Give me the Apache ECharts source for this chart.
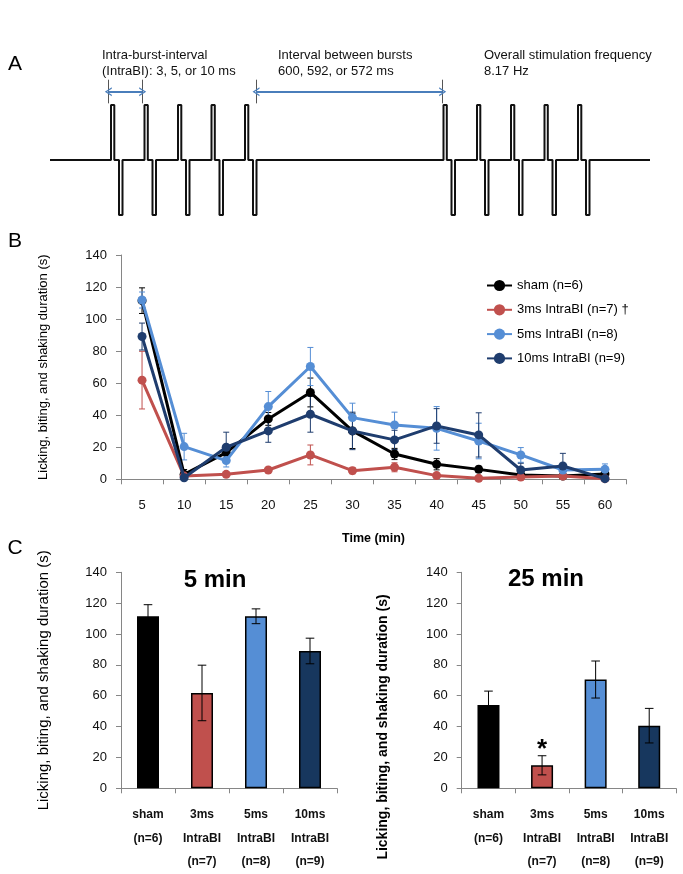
<!DOCTYPE html>
<html><head><meta charset="utf-8">
<script src="https://cdn.jsdelivr.net/npm/echarts@6/dist/echarts.min.js"></script>
<style>html,body{margin:0;padding:0;background:#fff}#c{width:683px;height:874px}</style>
</head><body><div id="c"></div>
<script>
// ---------- Panel A: stimulation schematic (units: schematic time, arbitrary) ----------
const burstPulseStarts = [61, 94.5, 128, 161.5, 195, 393.5, 427, 461, 494.5, 528];
const waveLength = 600;
const pulseUpWidth = 3.3;
const pulseDownStart = 8;
const pulseDownEnd = 11.5;
const markerLinesX = [58.3, 92.7, 206, 392.7];
const arrowSpans = [[58.3, 92.7], [206, 392.7]];

// ---------- Panel B: time course ----------
const timeLabels = ['5','10','15','20','25','30','35','40','45','50','55','60'];
const groupNames = ['sham (n=6)', '3ms IntraBI (n=7)', '5ms IntraBI (n=8)', '10ms IntraBI (n=9)'];
const shamMean = [111.5, 3.1, 16.6, 37.7, 54.2, 30.2, 15.8, 9.4, 6.2, 2.7, 2.0, 3.3];
const shamSem  = [8, 3, 4, 4, 9, 11, 3.5, 3.5, 2, 1, 1, 1];
const ms3Mean  = [61.9, 2.0, 3.1, 5.8, 15.2, 5.4, 7.5, 2.3, 0.6, 1.4, 2.0, 0.4];
const ms3Sem   = [18, 1, 1, 1.5, 6.2, 2, 2.8, 1.5, 0.5, 1, 1, 0.3];
const ms5Mean  = [111.9, 20.4, 11.7, 45.4, 70.4, 38.5, 33.9, 31.8, 23.9, 15.2, 5.8, 6.2];
const ms5Sem   = [5, 8.3, 4, 9.4, 11.9, 9, 8, 13.6, 11.1, 4.6, 3, 3.4];
const ms10Mean = [89.1, 1.0, 20.0, 30.2, 40.6, 30.2, 24.6, 33.3, 27.7, 5.8, 8.3, 0.4];
const ms10Sem  = [8.4, 1, 9.4, 7.1, 11.2, 11.7, 6, 10.8, 13.8, 4.2, 7.9, 0.5];
const yTicksMax = 140;

// ---------- Panel C: bars ----------
const barCategories = ['sham\n(n=6)', '3ms\nIntraBI\n(n=7)', '5ms\nIntraBI\n(n=8)', '10ms\nIntraBI\n(n=9)'];
const bar5Mean  = [111.5, 61.8, 111.5, 89.0];
const bar5Sem   = [7.5, 18, 4.8, 8.3];
const bar25Mean = [54.0, 14.9, 70.5, 40.6];
const bar25Sem  = [9, 6.2, 12, 11.2];
const bar25Sig  = ['', '*', '', ''];

// ---------- styles ----------
const FONT = '"Liberation Sans", Arial, sans-serif';
const lineColors = ['#000000', '#c0504d', '#558ed5', '#1f3d6e'];
const barColors  = ['#000000', '#c0504d', '#558ed5', '#17375e'];
const axisGray = '#868686';

// build waveform vertices from pulse start times
const wave = [[0, 0]];
burstPulseStarts.forEach(t => {
  wave.push([t, 0], [t, 1], [t + pulseUpWidth, 1], [t + pulseUpWidth, 0],
            [t + pulseDownStart, 0], [t + pulseDownStart, -1], [t + pulseDownEnd, -1], [t + pulseDownEnd, 0]);
});
wave.push([waveLength, 0]);

const chev = 'path://M0,10 L5,0 L10,10 L8.4,10 L5,3.2 L1.6,10 Z';
const markData = [];
markerLinesX.forEach(x => markData.push([
  {coord: [x, 1.46], symbol: 'none', lineStyle: {color: '#555', width: 1, type: 'solid'}},
  {coord: [x, 1.03], symbol: 'none'}
]));
arrowSpans.forEach(s => markData.push([
  {coord: [s[0], 1.242], symbol: chev, symbolSize: [9, 7], lineStyle: {color: '#4a7ebb', width: 2, type: 'solid'}},
  {coord: [s[1], 1.242], symbol: chev, symbolSize: [9, 7]}
]));

function errRender(capHalf, color, lw) {
  return function (params, api) {
    const x = api.value(0), lo = api.value(1), hi = api.value(2);
    const a = api.coord([x, hi]), b = api.coord([x, lo]);
    const st = {stroke: color, lineWidth: lw};
    return {type: 'group', children: [
      {type: 'line', shape: {x1: a[0], y1: a[1], x2: b[0], y2: b[1]}, style: st},
      {type: 'line', shape: {x1: a[0] - capHalf, y1: a[1], x2: a[0] + capHalf, y2: a[1]}, style: st},
      {type: 'line', shape: {x1: b[0] - capHalf, y1: b[1], x2: b[0] + capHalf, y2: b[1]}, style: st}
    ]};
  };
}
function errData(mean, sem) {
  return mean.map((m, i) => [i, Math.max(0, m - sem[i]), m + sem[i]]);
}

const means = [shamMean, ms3Mean, ms5Mean, ms10Mean];
const sems = [shamSem, ms3Sem, ms5Sem, ms10Sem];

const series = [
  {type: 'line', xAxisIndex: 0, yAxisIndex: 0, data: wave, symbol: 'none', silent: true,
   lineStyle: {color: '#111', width: 2}, z: 2,
   markLine: {silent: true, animation: false, label: {show: false}, data: markData}}
];
// error bars for B (beneath lines)
means.forEach((m, k) => series.push({
  type: 'custom', xAxisIndex: 1, yAxisIndex: 1, silent: true, z: 1,
  renderItem: errRender(3, lineColors[k], 1), data: errData(m, sems[k]),
  encode: {x: 0, y: [1, 2]}
}));
// lines for B
means.forEach((m, k) => series.push({
  type: 'line', name: groupNames[k], xAxisIndex: 1, yAxisIndex: 1, data: m,
  symbol: 'circle', symbolSize: 9, color: lineColors[k],
  lineStyle: {width: 3, color: lineColors[k]}, itemStyle: {color: lineColors[k]}, z: 3 + k
}));
// bars C left
series.push({
  type: 'bar', name: '5 min', xAxisIndex: 2, yAxisIndex: 2, barWidth: 22,
  data: bar5Mean.map((v, i) => ({value: v, itemStyle: {color: barColors[i]}})),
  itemStyle: {borderColor: '#000', borderWidth: 1.5}, z: 2
});
series.push({
  type: 'custom', xAxisIndex: 2, yAxisIndex: 2, silent: true, z: 5,
  renderItem: errRender(4.3, '#000', 1), data: errData(bar5Mean, bar5Sem), encode: {x: 0, y: [1, 2]}
});
// bars C right
series.push({
  type: 'bar', name: '25 min', xAxisIndex: 3, yAxisIndex: 3, barWidth: 22,
  data: bar25Mean.map((v, i) => ({
    value: v, itemStyle: {color: barColors[i]},
    label: {show: bar25Sig[i] !== '', position: 'top', distance: 2, formatter: bar25Sig[i],
            fontSize: 26, fontWeight: 'bold', color: '#000', fontFamily: FONT}
  })),
  itemStyle: {borderColor: '#000', borderWidth: 1.5}, z: 2
});
series.push({
  type: 'custom', xAxisIndex: 3, yAxisIndex: 3, silent: true, z: 5,
  renderItem: errRender(4.3, '#000', 1), data: errData(bar25Mean, bar25Sem), encode: {x: 0, y: [1, 2]}
});

const valAxis = (gi, name, gap, nameSize, nameWeight) => ({
  type: 'value', gridIndex: gi, min: 0, max: yTicksMax, interval: 20,
  name: name, nameLocation: 'middle', nameGap: gap,
  nameTextStyle: {fontSize: nameSize, color: '#000', fontFamily: FONT, fontWeight: nameWeight},
  axisLine: {show: true, lineStyle: {color: axisGray, width: 1}},
  axisTick: {show: true, length: 5, lineStyle: {color: axisGray}},
  axisLabel: {fontSize: 13, color: '#111', margin: 14, fontFamily: FONT},
  splitLine: {show: false}
});
const catAxis = (gi, data, labelOpt, name) => ({
  type: 'category', gridIndex: gi, data: data, boundaryGap: true,
  name: name || '', nameLocation: 'middle', nameGap: 53,
  nameTextStyle: {fontSize: 12.5, fontWeight: 'bold', color: '#000', fontFamily: FONT},
  axisLine: {show: true, lineStyle: {color: axisGray, width: 1}},
  axisTick: {show: true, length: 5, alignWithLabel: false, lineStyle: {color: axisGray}},
  axisLabel: Object.assign({interval: 0, color: '#111', fontFamily: FONT}, labelOpt),
  splitLine: {show: false}
});

const option = {
  animation: false,
  backgroundColor: '#fff',
  textStyle: {fontFamily: FONT},
  grid: [
    {left: 50, top: 72, width: 600, height: 143},
    {left: 121, top: 255, width: 505, height: 224.3},
    {left: 121, top: 572.3, width: 216, height: 216},
    {left: 461.7, top: 572.3, width: 214.3, height: 216}
  ],
  xAxis: [
    {type: 'value', gridIndex: 0, min: 0, max: waveLength, show: false},
    catAxis(1, timeLabels, {fontSize: 13, margin: 20}, 'Time (min)'),
    catAxis(2, barCategories, {fontSize: 12, fontWeight: 'bold', lineHeight: 23.5, margin: 15}),
    catAxis(3, barCategories, {fontSize: 12, fontWeight: 'bold', lineHeight: 23.5, margin: 15})
  ],
  yAxis: [
    {type: 'value', gridIndex: 0, min: -1, max: 1.6, show: false},
    valAxis(1, 'Licking, biting, and shaking duration (s)', 71, 13, 'normal'),
    valAxis(2, 'Licking, biting, and shaking duration (s)', 70, 15, 'normal'),
    valAxis(3, '', 0, 14, 'bold')
  ],
  legend: {
    data: groupNames, orient: 'vertical', left: 481, top: 274,
    itemWidth: 25, itemHeight: 14, itemGap: 11.3, selectedMode: false,
    textStyle: {fontSize: 13, color: '#000', fontFamily: FONT},
    formatter: n => (n === groupNames[1] ? n + ' \u2020' : n)
  },
  graphic: {elements: [
    {type: 'text', x: 15, y: 64, style: {text: 'A', fontSize: 21, fill: '#000', fontFamily: FONT, align: 'center', verticalAlign: 'middle'}},
    {type: 'text', x: 15, y: 241, style: {text: 'B', fontSize: 21, fill: '#000', fontFamily: FONT, align: 'center', verticalAlign: 'middle'}},
    {type: 'text', x: 15, y: 548, style: {text: 'C', fontSize: 21, fill: '#000', fontFamily: FONT, align: 'center', verticalAlign: 'middle'}},
    {type: 'text', x: 102, y: 47, style: {text: 'Intra-burst-interval\n(IntraBI): 3, 5, or 10 ms', fontSize: 13, lineHeight: 16, fill: '#111', fontFamily: FONT, align: 'left', verticalAlign: 'top'}},
    {type: 'text', x: 278, y: 47, style: {text: 'Interval between bursts\n600, 592, or 572 ms', fontSize: 13, lineHeight: 16, fill: '#111', fontFamily: FONT, align: 'left', verticalAlign: 'top'}},
    {type: 'text', x: 484, y: 47, style: {text: 'Overall stimulation frequency\n8.17 Hz', fontSize: 13, lineHeight: 16, fill: '#111', fontFamily: FONT, align: 'left', verticalAlign: 'top'}},
    {type: 'text', x: 215, y: 580, style: {text: '5 min', fontSize: 24, fontWeight: 'bold', fill: '#000', fontFamily: FONT, align: 'center', verticalAlign: 'middle'}},
    {type: 'text', x: 546, y: 579, style: {text: '25 min', fontSize: 24, fontWeight: 'bold', fill: '#000', fontFamily: FONT, align: 'center', verticalAlign: 'middle'}},
    {type: 'text', x: 383, y: 727, rotation: Math.PI / 2, style: {text: 'Licking, biting, and shaking duration (s)', fontSize: 14, fontWeight: 'bold', fill: '#000', fontFamily: FONT, align: 'center', verticalAlign: 'middle'}}
  ]},
  series: series
};

const chart = echarts.init(document.getElementById('c'), null, {renderer: 'canvas'});
chart.setOption(option);
</script>
</body></html>
